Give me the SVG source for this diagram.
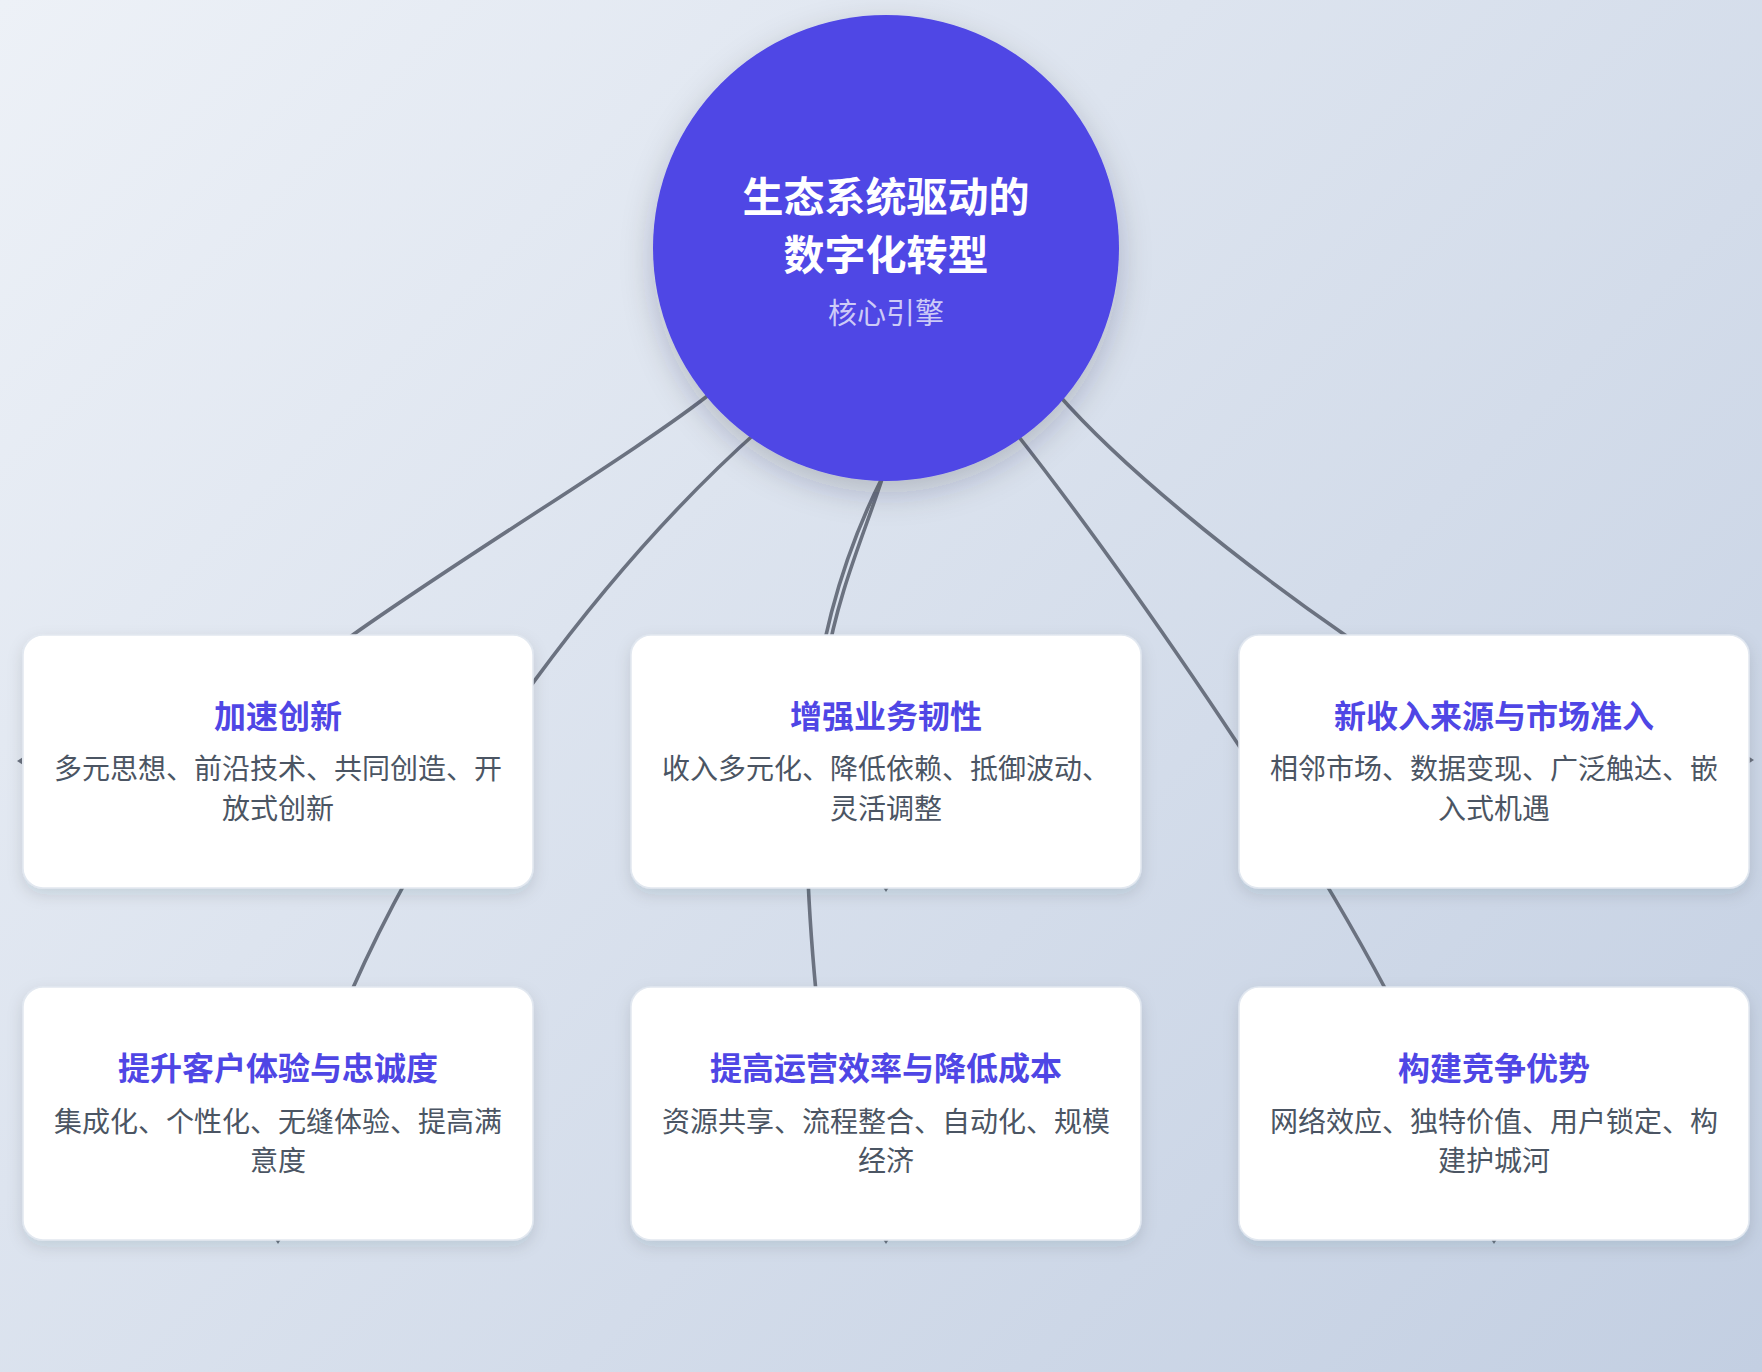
<svg xmlns="http://www.w3.org/2000/svg" width="1762" height="1372" viewBox="0 0 1762 1372">
<defs>
<linearGradient id="bg" gradientUnits="userSpaceOnUse" x1="97" y1="-97" x2="1665" y2="1469">
<stop offset="0" stop-color="#edf1f7"/>
<stop offset="1" stop-color="#c3cfe2"/>
</linearGradient>
<filter id="cardShadow" x="-10%" y="-10%" width="120%" height="135%">
<feDropShadow dx="0" dy="6" stdDeviation="8" flood-color="#1e293b" flood-opacity="0.12"/>
</filter>
<filter id="hubShadow" x="-20%" y="-20%" width="140%" height="150%">
<feDropShadow dx="0" dy="12" stdDeviation="16" flood-color="#1e293b" flood-opacity="0.22"/>
</filter>
<path id="tip" d="M0 0 L-5 -3.2 L-5 3.2 Z"/>
</defs>
<style>
.link{fill:none;stroke:#6b7280;stroke-width:3.6;stroke-linecap:round}
.tip{fill:#6b7280}
.card{fill:#ffffff;stroke:#e2e8f0;stroke-width:1.5;filter:url(#cardShadow)}
.hub{fill:#4f46e5;filter:url(#hubShadow)}
.hubTitle{font-family:"Noto Sans CJK SC","Noto Sans",sans-serif;font-weight:700;font-size:41px;fill:#ffffff;text-anchor:middle;dominant-baseline:central}
.hubSub{font-family:"Noto Sans CJK SC","Noto Sans",sans-serif;font-weight:400;font-size:29px;fill:#ffffff;fill-opacity:0.72;text-anchor:middle;dominant-baseline:central}
.title{font-family:"Noto Sans CJK SC","Noto Sans",sans-serif;font-weight:700;font-size:32px;fill:#4f46e5;text-anchor:middle;dominant-baseline:central}
.desc{font-family:"Noto Sans CJK SC","Noto Sans",sans-serif;font-weight:400;font-size:28px;fill:#4b5563;text-anchor:middle;dominant-baseline:central}
</style>
<rect x="0" y="0" width="1762" height="1372" fill="url(#bg)"/>

<g id="connectors">
<path class="link" d="M 715 390 C 640 450 480 545 354 634 L 330 652"/>
<path class="link" d="M 760 429 C 610 562 445 780 352 990 L 346 1005"/>
<path class="link" d="M 883 476 C 800 640 798 800 816 992 L 817 1000"/>
<path class="link" d="M 885 470 C 868 525 838 590 826 665"/>
<path class="link" d="M 1057 393 C 1120 465 1230 555 1345 635 L 1360 650"/>
<path class="link" d="M 1012 428 C 1100 540 1280 790 1386 990 L 1390 1000"/>
<use class="tip" href="#tip" transform="translate(17 761) rotate(180)"/>
<use class="tip" href="#tip" transform="translate(1754 760)"/>
<use class="tip" href="#tip" transform="translate(886 892) rotate(90)"/>
<use class="tip" href="#tip" transform="translate(278 1244) rotate(90)"/>
<use class="tip" href="#tip" transform="translate(886 1244) rotate(90)"/>
<use class="tip" href="#tip" transform="translate(1494 1244) rotate(90)"/>
</g>

<g id="hub">
<circle class="hub" cx="886" cy="248" r="233"/>
<text class="hubTitle" x="886" y="194">生态系统驱动的</text>
<text class="hubTitle" x="886" y="252">数字化转型</text>
<text class="hubSub" x="886" y="311">核心引擎</text>
</g>

<g id="node-innovation">
<rect class="card" x="23" y="635" width="510" height="253" rx="20"/>
<text class="title" x="278" y="714">加速创新</text>
<text class="desc" x="278" y="767">多元思想、前沿技术、共同创造、开</text>
<text class="desc" x="278" y="807">放式创新</text>
</g>

<g id="node-resilience">
<rect class="card" x="631" y="635" width="510" height="253" rx="20"/>
<text class="title" x="886" y="714">增强业务韧性</text>
<text class="desc" x="886" y="767">收入多元化、降低依赖、抵御波动、</text>
<text class="desc" x="886" y="807">灵活调整</text>
</g>

<g id="node-revenue">
<rect class="card" x="1239" y="635" width="510" height="253" rx="20"/>
<text class="title" x="1494" y="714">新收入来源与市场准入</text>
<text class="desc" x="1494" y="767">相邻市场、数据变现、广泛触达、嵌</text>
<text class="desc" x="1494" y="807">入式机遇</text>
</g>

<g id="node-customer">
<rect class="card" x="23" y="987" width="510" height="253" rx="20"/>
<text class="title" x="278" y="1066">提升客户体验与忠诚度</text>
<text class="desc" x="278" y="1120">集成化、个性化、无缝体验、提高满</text>
<text class="desc" x="278" y="1159">意度</text>
</g>

<g id="node-efficiency">
<rect class="card" x="631" y="987" width="510" height="253" rx="20"/>
<text class="title" x="886" y="1066">提高运营效率与降低成本</text>
<text class="desc" x="886" y="1120">资源共享、流程整合、自动化、规模</text>
<text class="desc" x="886" y="1159">经济</text>
</g>

<g id="node-advantage">
<rect class="card" x="1239" y="987" width="510" height="253" rx="20"/>
<text class="title" x="1494" y="1066">构建竞争优势</text>
<text class="desc" x="1494" y="1120">网络效应、独特价值、用户锁定、构</text>
<text class="desc" x="1494" y="1159">建护城河</text>
</g>
</svg>
